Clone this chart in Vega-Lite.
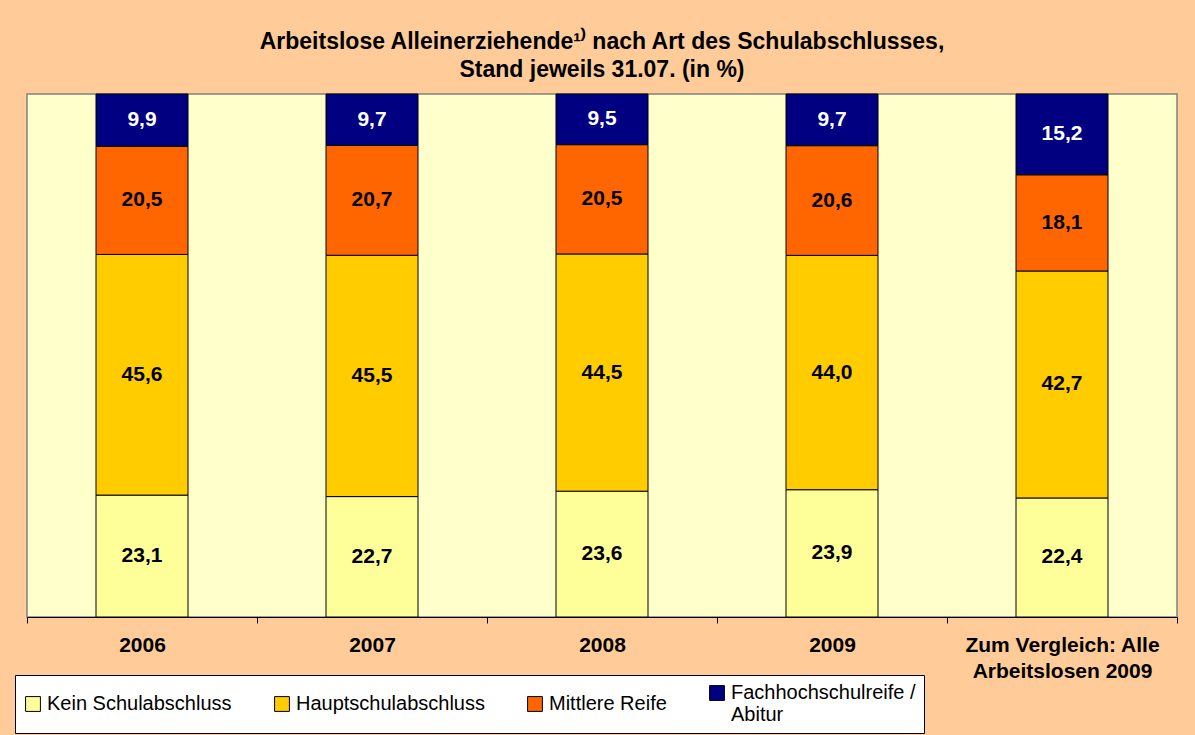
{
  "$schema": "https://vega.github.io/schema/vega-lite/v6.json",
  "width": 1150,
  "height": 523,
  "autosize": {"type": "none"},
  "padding": {"left": 27, "top": 94, "right": 18, "bottom": 118},
  "background": "#FFCC99",
  "title": {
    "text": ["Arbeitslose Alleinerziehende¹⁾ nach Art des Schulabschlusses,", "Stand jeweils 31.07.  (in %)"],
    "anchor": "middle",
    "fontSize": 23,
    "fontWeight": "bold",
    "font": "Liberation Sans",
    "color": "black",
    "lineHeight": 28,
    "offset": 12
  },
  "config": {
    "font": "Liberation Sans",
    "locale": {"number": {"decimal": ",", "thousands": ".", "grouping": [3], "currency": ["", " €"]}},
    "view": {"fill": "#FFFFCC", "stroke": "#808080", "strokeWidth": 1.5}
  },
  "data": {
    "values": [
      {"cat": "2006", "type": "Kein Schulabschluss", "order": 1, "value": 23.1},
      {"cat": "2006", "type": "Hauptschulabschluss", "order": 2, "value": 45.6},
      {"cat": "2006", "type": "Mittlere Reife", "order": 3, "value": 20.5},
      {"cat": "2006", "type": "Fachhochschulreife / Abitur", "order": 4, "value": 9.9},
      {"cat": "2007", "type": "Kein Schulabschluss", "order": 1, "value": 22.7},
      {"cat": "2007", "type": "Hauptschulabschluss", "order": 2, "value": 45.5},
      {"cat": "2007", "type": "Mittlere Reife", "order": 3, "value": 20.7},
      {"cat": "2007", "type": "Fachhochschulreife / Abitur", "order": 4, "value": 9.7},
      {"cat": "2008", "type": "Kein Schulabschluss", "order": 1, "value": 23.6},
      {"cat": "2008", "type": "Hauptschulabschluss", "order": 2, "value": 44.5},
      {"cat": "2008", "type": "Mittlere Reife", "order": 3, "value": 20.5},
      {"cat": "2008", "type": "Fachhochschulreife / Abitur", "order": 4, "value": 9.5},
      {"cat": "2009", "type": "Kein Schulabschluss", "order": 1, "value": 23.9},
      {"cat": "2009", "type": "Hauptschulabschluss", "order": 2, "value": 44.0},
      {"cat": "2009", "type": "Mittlere Reife", "order": 3, "value": 20.6},
      {"cat": "2009", "type": "Fachhochschulreife / Abitur", "order": 4, "value": 9.7},
      {"cat": "Zum Vergleich: Alle Arbeitslosen 2009", "type": "Kein Schulabschluss", "order": 1, "value": 22.4},
      {"cat": "Zum Vergleich: Alle Arbeitslosen 2009", "type": "Hauptschulabschluss", "order": 2, "value": 42.7},
      {"cat": "Zum Vergleich: Alle Arbeitslosen 2009", "type": "Mittlere Reife", "order": 3, "value": 18.1},
      {"cat": "Zum Vergleich: Alle Arbeitslosen 2009", "type": "Fachhochschulreife / Abitur", "order": 4, "value": 15.2}
    ]
  },
  "transform": [
    {"stack": "value", "groupby": ["cat"], "sort": [{"field": "order", "order": "ascending"}], "offset": "normalize", "as": ["y0", "y1"]},
    {"calculate": "(datum.y0 + datum.y1) / 2", "as": "ymid"}
  ],
  "encoding": {
    "x": {
      "field": "cat",
      "type": "nominal",
      "sort": null,
      "scale": {"paddingInner": 0, "paddingOuter": 0},
      "axis": {
        "title": null,
        "labelAngle": 0,
        "labelFontSize": 21,
        "labelFontWeight": "bold",
        "labelColor": "black",
        "labelPadding": 11,
        "labelLineHeight": 26,
        "labelLimit": 400,
        "labelExpr": "datum.label == 'Zum Vergleich: Alle Arbeitslosen 2009' ? ['Zum Vergleich: Alle', 'Arbeitslosen 2009'] : datum.label",
        "domainColor": "black",
        "domainWidth": 1,
        "tickColor": "black",
        "tickSize": 6,
        "tickBand": "extent",
        "grid": false
      }
    }
  },
  "layer": [
    {
      "mark": {"type": "bar", "stroke": "black", "strokeWidth": 1, "width": {"band": 0.4}},
      "encoding": {
        "y": {"field": "y0", "type": "quantitative", "scale": {"domain": [0, 1], "nice": false}, "axis": null},
        "y2": {"field": "y1"},
        "color": {
          "field": "type",
          "type": "nominal",
          "scale": {
            "domain": ["Kein Schulabschluss", "Hauptschulabschluss", "Mittlere Reife", "Fachhochschulreife / Abitur"],
            "range": ["#FFFF99", "#FFCC00", "#FF6600", "#000080"]
          },
          "legend": {
            "title": null,
            "orient": "none",
            "legendX": -12,
            "legendY": 581,
            "direction": "horizontal",
            "fillColor": "white",
            "strokeColor": "black",
            "padding": 8,
            "columnPadding": 40,
            "symbolType": "square",
            "symbolSize": 220,
            "symbolStrokeColor": "black",
            "symbolStrokeWidth": 1,
            "labelFontSize": 20,
            "labelColor": "black",
            "labelOffset": 4,
            "labelLimit": 400,
            "labelLineHeight": 23,
            "labelExpr": "datum.label == 'Fachhochschulreife / Abitur' ? ['Fachhochschulreife /', 'Abitur'] : datum.label"
          }
        }
      }
    },
    {
      "mark": {"type": "text", "fontSize": 21, "fontWeight": "bold", "baseline": "middle"},
      "encoding": {
        "y": {"field": "ymid", "type": "quantitative", "scale": {"domain": [0, 1], "nice": false}, "axis": null},
        "text": {"field": "value", "type": "quantitative", "format": ".1f"},
        "color": {
          "condition": {"test": "datum.type == 'Fachhochschulreife / Abitur'", "value": "white"},
          "value": "black"
        }
      }
    }
  ]
}
